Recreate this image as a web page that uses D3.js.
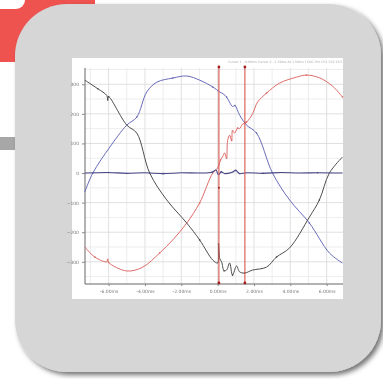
<!DOCTYPE html>
<html><head><meta charset="utf-8">
<script src="https://cdn.jsdelivr.net/npm/d3@7/dist/d3.min.js"></script>
<style>html,body{margin:0;padding:0;background:#fff;overflow:hidden}</style>
</head><body>
<svg id="c" width="383" height="379"></svg>
<script>
// ---- data (time in ms, value in units) ----
const xTickLabels = ["-6.00ms","-4.00ms","-2.00ms","0.00ms","2.00ms","4.00ms","6.00ms"];
const xTickValues = [-6,-4,-2,0,2,4,6];
const yTickValues = [300,200,100,0,-100,-200,-300];
const cursorTimes = [0.07, 1.5];

const blackT = [-7.31,-6.6,-6.1,-6.05,-6.0,-5.0,-4.45,-3.74,-2.8,-1.7,-0.99,-0.27,0.0,0.05,0.12,0.22,0.35,0.49,0.66,0.82,1.04,1.21,1.48,1.92,2.69,3.24,3.96,5.05,5.6,6.15,6.87];
const blackV = [314,285,262,245,258,162,135,0,-91,-169,-226,-294,-304,-240,-290,-300,-330,-328,-304,-345,-314,-334,-338,-328,-318,-284,-253,-149,-91,0,54];

const blueT = [-7.31,-6.87,-5.93,-5.0,-4.45,-3.9,-3.35,-2.47,-1.7,-0.99,-0.27,0.11,0.3,0.49,0.65,0.82,0.95,1.21,1.59,2.14,3.02,3.96,5.05,6.15,6.87];
const blueV = [-64,0,88,162,189,274,307,321,328,314,291,274,268,257,240,225,228,196,162,135,0,-91,-169,-270,-304];

const redT = [-7.31,-6.76,-6.1,-6.05,-6.0,-5.0,-4.12,-3.19,-2.47,-1.7,-0.99,-0.27,0.0,0.16,0.27,0.38,0.49,0.55,0.66,0.77,0.82,0.93,1.1,1.21,1.37,1.59,1.92,2.2,2.69,3.41,4.34,4.89,5.6,6.32,6.87];
const redV = [-250,-284,-300,-290,-302,-331,-318,-270,-226,-169,-101,0,17,44,55,68,50,110,128,110,145,135,152,150,165,172,200,240,270,304,324,331,322,294,257];

const flatT = [-7.31,-6,-5,-4,-3,-2,-1,-0.3,-0.1,0.05,0.2,0.4,0.8,1.0,1.2,1.6,2.5,3.5,4.5,5.5,6.87];
const flatV = [0,2,-1,1,-2,1,0,3,10,-6,4,-2,3,9,-2,1,-1,2,0,1,0];

// ---- layout ----
const svg = d3.select("#c");
const defs = svg.append("defs");
const sh = defs.append("filter").attr("id","sh").attr("x","-10%").attr("y","-10%").attr("width","130%").attr("height","130%");
sh.append("feDropShadow").attr("dx",3).attr("dy",3).attr("stdDeviation",2.5).attr("flood-color","#000").attr("flood-opacity",0.55);
const bl = defs.append("filter").attr("id","bl");
bl.append("feGaussianBlur").attr("stdDeviation",0.45);

// decorative shapes
svg.append("rect").attr("x",0).attr("y",0).attr("width",95).attr("height",62).attr("fill","#ef5350");
svg.append("rect").attr("x",-30).attr("y",-30).attr("width",55).attr("height",39).attr("rx",9).attr("fill","#fff");
svg.append("rect").attr("x",0).attr("y",137).attr("width",20).attr("height",13).attr("fill","#a7a7a7");
svg.append("rect").attr("x",15).attr("y",4).attr("width",366).attr("height",368).attr("rx",52).attr("fill","#d6d6d6").attr("filter","url(#sh)");

// chart panel
svg.append("rect").attr("x",72).attr("y",58).attr("width",271).attr("height",241).attr("fill","#fff");

const g = svg.append("g").attr("filter","url(#bl)");
const x = d3.scaleLinear().domain([-7.3,6.9]).range([85,343]);
const y = d3.scaleLinear().domain([-375,355]).range([284,68]);

// grid
const gridX = d3.range(-7,7,1);
const gridY = d3.range(-350,355,50);
g.append("g").selectAll("line").data(gridX).join("line")
 .attr("x1",d=>x(d)).attr("x2",d=>x(d)).attr("y1",68).attr("y2",284)
 .attr("stroke",d=>d%2===0?"#d8d8d8":"#e8e8e8").attr("stroke-width",0.8);
g.append("g").selectAll("line").data(gridY).join("line")
 .attr("x1",85).attr("x2",343).attr("y1",d=>y(d)).attr("y2",d=>y(d))
 .attr("stroke",d=>d%100===0?"#d8d8d8":"#e8e8e8").attr("stroke-width",0.8);

// axes
const yAxis = d3.axisLeft(y).tickValues(yTickValues).tickSize(3).tickPadding(3).tickFormat(d3.format("d"));
const ya = g.append("g").attr("transform","translate(85,0)").call(yAxis);
ya.select(".domain").attr("stroke","#666").attr("d","M0,68V284");
ya.selectAll("line").attr("stroke","#888");
ya.selectAll("text").attr("font-family","DejaVu Sans").attr("font-size",4.5).attr("fill","#777");

const xAxis = d3.axisBottom(x).tickValues(xTickValues).tickSize(2).tickPadding(4).tickFormat((d,i)=>xTickLabels[i]);
const xa = g.append("g").attr("transform","translate(0,284)").call(xAxis);
xa.select(".domain").attr("stroke","#666").attr("d","M85,0H343");
xa.selectAll("line").attr("stroke","#888");
xa.selectAll("text").attr("font-family","DejaVu Sans").attr("font-size",4.5).attr("fill","#777");

// legend-ish caption (top right)
g.append("text").attr("x",342).attr("y",63).attr("text-anchor","end")
 .attr("font-family","DejaVu Sans").attr("font-size",3.2).attr("fill","#aaa")
 .text("Cursor 1 - 0.00ms   Cursor 2 - 1.50ms   Δt 1.50ms   f 666.7Hz   Ch1 Ch2 Ch3");

// series
const line = d3.line().x(d=>x(d[0])).y(d=>y(d[1])).curve(d3.curveCatmullRom.alpha(0.5));
function series(T,V,color,w){
  const pts = T.map((t,i)=>[t,V[i]]);
  g.append("path").datum(pts).attr("d",line).attr("fill","none").attr("stroke",color).attr("stroke-width",w);
  g.append("g").selectAll("circle").data(pts.filter((d,i)=>i%3===1)).join("circle")
   .attr("cx",d=>x(d[0])).attr("cy",d=>y(d[1])).attr("r",0.8).attr("fill",color);
}
series(redT,redV,"#dc6461",0.95);
series(blueT,blueV,"#6064b4",0.95);
series(blackT,blackV,"#444",0.95);
series(flatT,flatV,"#4a4a8a",1.1);

// cursors
cursorTimes.forEach(t=>{
  g.append("line").attr("x1",x(t)).attr("x2",x(t)).attr("y1",67).attr("y2",284).attr("stroke","#d9534f").attr("stroke-width",1.1);
  [67,283].forEach(yy=>g.append("circle").attr("cx",x(t)).attr("cy",yy).attr("r",1.4).attr("fill","#a02020"));
});
g.append("circle").attr("cx",x(cursorTimes[0])).attr("cy",y(-50)).attr("r",1).attr("fill","#a02020");
</script>
</body></html>
